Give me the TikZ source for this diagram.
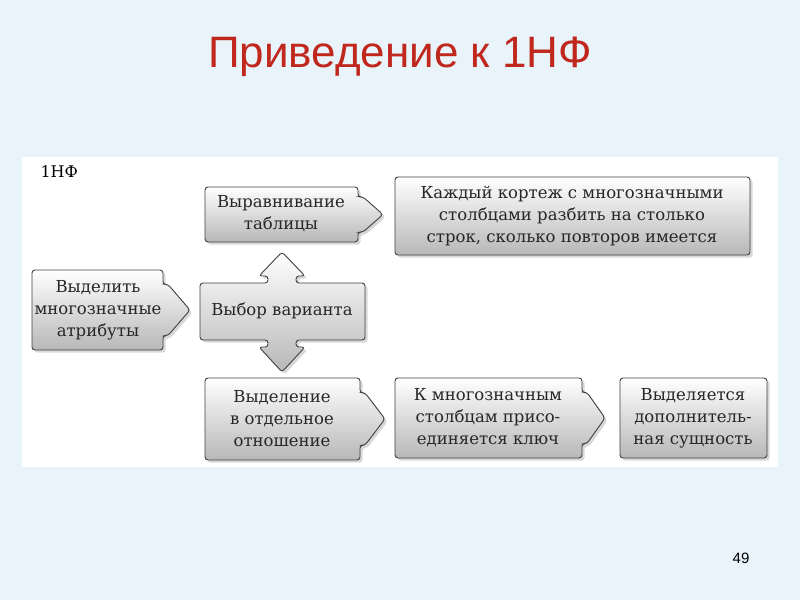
\documentclass[tikz,border=0pt]{standalone}
\usepackage{fontspec}
\setmainfont{DejaVu Serif}
\newfontfamily\titlefont{Liberation Sans}
\definecolor{bg}{HTML}{E8F4FA}
\definecolor{titlered}{HTML}{C0281E}
\usetikzlibrary{shadows}
\tikzset{
  blk/.style={draw=black!75, line width=0.9pt, rounded corners=3pt, top color=white, bottom color=black!28, drop shadow={opacity=0.3}},
  txt/.style={align=center, font=\fontsize{16.5}{22}\selectfont, inner sep=0pt, text=black!85},
}
\newcommand\rbox[5]{% x1 y1 x2 y2 tip
  \pgfmathsetmacro\ym{(#2+#4)/2}
  \pgfmathsetmacro\ya{\ym-(#4-#2)*0.32}
  \pgfmathsetmacro\yb{\ym+(#4-#2)*0.32}
  \path[blk] (#1,#2) -- (#3,#2) -- (#3,\ya) -- (#3+5,\ya) -- (#5,\ym) -- (#3+5,\yb) -- (#3,\yb) -- (#3,#4) -- (#1,#4) -- cycle;}
\begin{document}
\begin{tikzpicture}[x=1pt,y=-1pt]
\fill[bg] (0,0) rectangle (800,600);
\useasboundingbox (0,0) rectangle (800,600);
\node[font=\titlefont\fontsize{44}{50}\selectfont, text=titlered] (title) at (400,57) {Приведение к 1НФ};
\fill[white] (22,157) rectangle (778,467);
\node[font=\fontsize{16}{20}\selectfont, anchor=west] (lbl) at (37,172) {1НФ};
\rbox{32}{270}{163}{350}{190}
\node[txt] (a) at (98,310) {Выделить\\многозначные\\атрибуты};
\path[blk] (200,283) -- (268,283) -- (268,276) -- (259,276) -- (282,252) -- (305,276) -- (296,276) -- (296,283)
  -- (365,283) -- (365,340) -- (296,340) -- (296,347) -- (305,347) -- (282,372) -- (259,347) -- (268,347) -- (268,340) -- (200,340) -- cycle;
\node[txt] (b) at (282,311) {Выбор варианта};
\rbox{205}{187}{358}{242}{383}
\node[txt] (c) at (281,214) {Выравнивание\\таблицы};
\path[blk] (395,177) rectangle (750,255);
\node[txt] (d) at (572,216) {Каждый кортеж с многозначными\\столбцами разбить на столько\\строк, сколько повторов имеется};
\rbox{205}{378}{360}{460}{385}
\node[txt] (e) at (282,419) {Выделение\\в отдельное\\отношение};
\rbox{395}{378}{582}{458}{605}
\node[txt] (f) at (488,418) {К многозначным\\столбцам присо-\\единяется ключ};
\path[blk] (620,378) rectangle (767,458);
\node[txt] (g) at (693,418) {Выделяется\\дополнитель-\\ная сущность};
\node[font=\titlefont\fontsize{15}{18}\selectfont] (num) at (741,558) {49};
\end{tikzpicture}
\end{document}
